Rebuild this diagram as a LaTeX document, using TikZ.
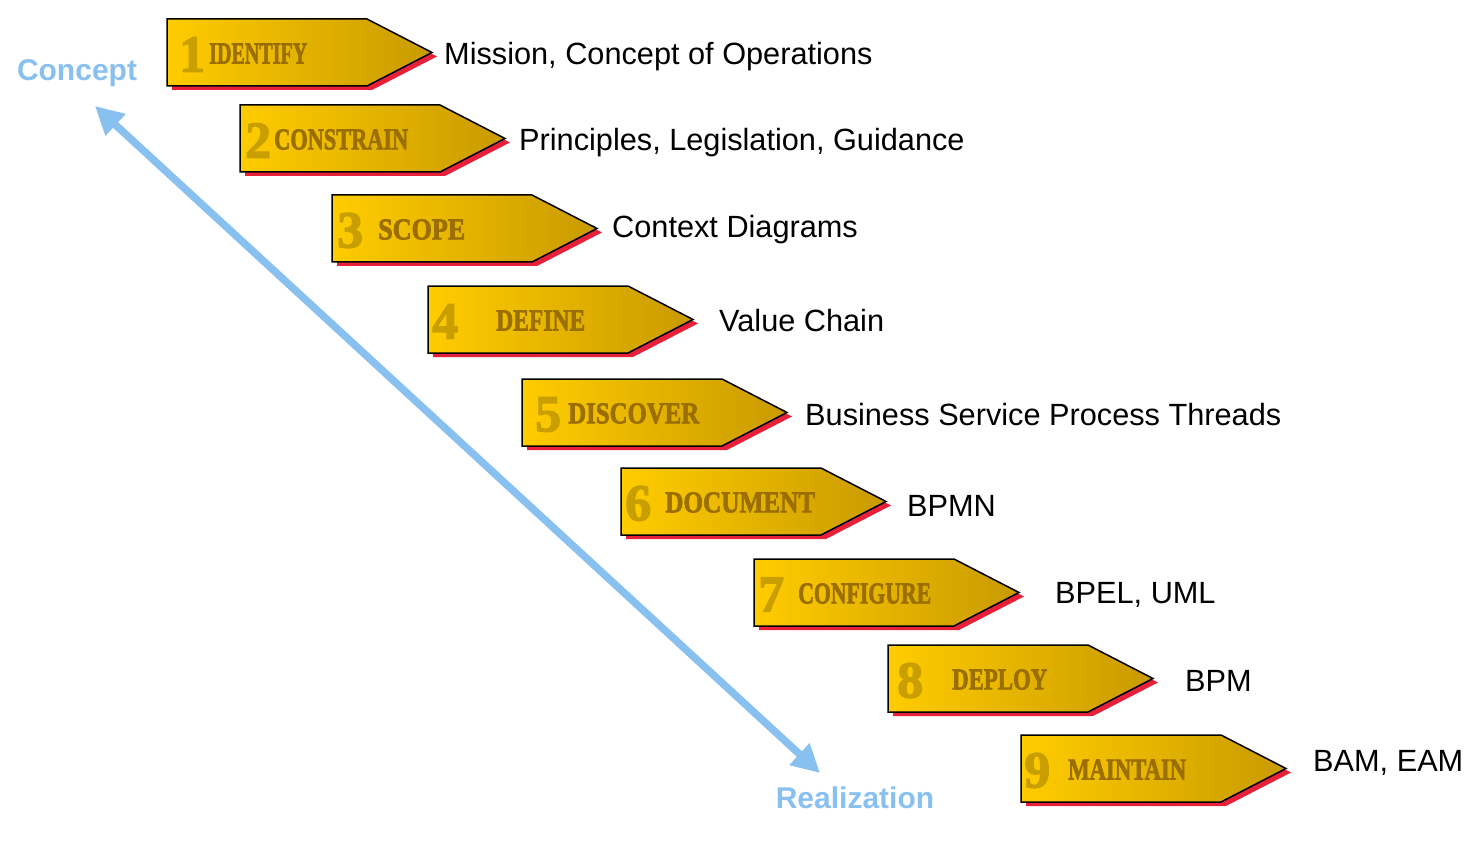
\documentclass[tikz,border=0pt]{standalone}
\usepackage{fontspec}
\setmainfont{Liberation Sans}
\newfontfamily\stencilfont{Liberation Serif}[BoldFeatures={FakeBold=2.5}]
\usetikzlibrary{arrows.meta}
\definecolor{goldL}{HTML}{FFCC00}
\definecolor{goldR}{HTML}{C99A00}
\definecolor{numC}{HTML}{C99E00}
\definecolor{wordC}{HTML}{9A6F00}
\definecolor{shadowred}{HTML}{E8213A}
\definecolor{skyblue}{HTML}{88C0F0}
\tikzset{
  stepshadow/.style={fill=shadowred},
  stepbody/.style={left color=goldL, right color=goldR, draw=black, line width=1.5pt, line join=miter},
  numstyle/.style={inner sep=0pt, anchor=west, text=numC, font=\stencilfont\bfseries\fontsize{52}{52}\selectfont},
  wordstyle/.style={inner sep=0pt, anchor=west, text=wordC, font=\stencilfont\bfseries},
  labstyle/.style={inner sep=0pt, anchor=base west, text=black, font=\fontsize{30.7}{36}\selectfont},
  phasestyle/.style={inner sep=0pt, anchor=base, text=skyblue, font=\bfseries\fontsize{30}{36}\selectfont},
  timeline/.style={draw=skyblue, line width=7.5pt, {Triangle[length=28pt,width=28pt]}-{Triangle[length=28pt,width=28pt]}}
}
\begin{document}
\begin{tikzpicture}[x=1pt,y=-1pt]
\useasboundingbox (0,0) rectangle (1469,850);
\foreach \i/\L/\T/\num/\nx/\word/\wx/\ww in {
  1/167/19/1/179/IDENTIFY/209/98,
  2/240/105/2/245/CONSTRAIN/274/134,
  3/332/195/3/337/SCOPE/378/87,
  4/428/286/4/432/DEFINE/496/89,
  5/522/379/5/535/DISCOVER/568/131,
  6/621/468/6/625/DOCUMENT/665/150,
  7/754/559/7/758/CONFIGURE/798/133,
  8/888/645/8/897/DEPLOY/952/95,
  9/1021/735/9/1024/MAINTAIN/1068/118}{
  \fill[stepshadow] (\L+5,\T+4) -- ++(200,0) -- ++(65,33.5) -- ++(-65,33.5) -- ++(-200,0) -- cycle;
  \shadedraw[stepbody] (\L,\T) -- ++(200,0) -- ++(65,33.5) -- ++(-65,33.5) -- ++(-200,0) -- cycle;
  \node[numstyle] (n\i) at (\nx,\T+35.5) {\num};
  \node[wordstyle] (w\i) at (\wx,\T+34.5) {\resizebox{\ww pt}{20pt}{\word}};
}
\node[labstyle] (l1) at (444,65) {Mission, Concept of Operations};
\node[labstyle] (l2) at (519,151) {Principles, Legislation, Guidance};
\node[labstyle] (l3) at (612,238) {Context Diagrams};
\node[labstyle] (l4) at (719,331) {Value Chain};
\node[labstyle] (l5) at (805,425) {Business Service Process Threads};
\node[labstyle] (l6) at (907,516) {BPMN};
\node[labstyle] (l7) at (1055,603) {BPEL, UML};
\node[labstyle] (l8) at (1185,691) {BPM};
\node[labstyle] (l9) at (1313,771) {BAM, EAM};
\node[phasestyle] (concept) at (77,81) {Concept};
\node[phasestyle] (realization) at (855,808) {Realization};
\coordinate (conceptEnd) at (95,106);
\coordinate (realEnd) at (820,773);
\draw[timeline] (conceptEnd) -- (realEnd);
\end{tikzpicture}
\end{document}
